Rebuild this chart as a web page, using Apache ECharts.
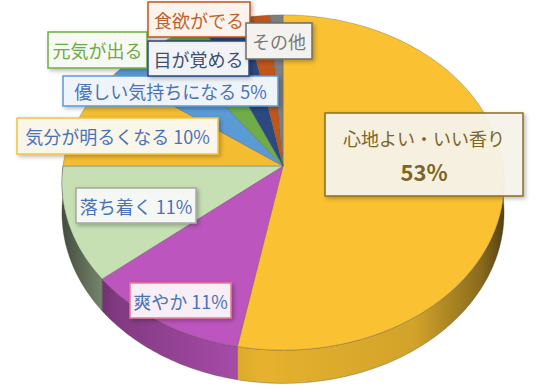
<!DOCTYPE html>
<html><head><meta charset="utf-8">
<script src="https://cdn.jsdelivr.net/npm/echarts@6/dist/echarts.min.js"></script>
<style>html,body{margin:0;padding:0;background:#fff}#c{width:555px;height:390px}</style>
</head><body><div id="c"></div>
<script>
// ---- data ----
const categories = ['心地よい・いい香り','爽やか','落ち着く','気分が明るくなる','優しい気持ちになる','元気が出る','目が覚める','食欲がでる','その他'];
const values = [53, 11, 11, 10, 5, 3.5, 3.5, 2, 1];
const showPercent = [true, true, true, true, true, false, false, false, false];

// ---- styles ----
const sliceColors = ['#FAC232','#BD55BE','#C6E0B4','#F4BD31','#5B9BD5','#70AD47','#2C4A80','#C0561A','#7F7F7F'];
const labelBorder = ['#8C6D1F','#E77A8E','#A6A6A6','#F5C242','#5B9BD5','#70AD47','#2F4B7C','#C0561A','#6E6E6E'];
const labelFill   = ['rgba(247,244,236,0.93)','#F8EEF6','#F4F7F4','#FBF6EA','#EFF4FB','#F6FAF2','#F1F3F7','#FBF3EC','#F4F2EE'];
const labelText   = ['#7F6424','#4A72B8','#4A72B8','#4A72B8','#4A72B8','#6FA74C','#3C4F70','#C0602A','#7A7A7A'];
const labelBoxes  = [[325,113,198,83],[130,283,101,35],[76,188,120,35],[17,118,201,36],[63,76,215,30],[48,32,99,36],[148,41,101,35],[148,2,102,35],[246,23,66,36]];

const CX = 283, CY = 166, RX = 220, RY = 166, P = 0.0985, DEPTH = 30;
const FONT = '"Noto Sans CJK JP", sans-serif';

const total = values.reduce((a, b) => a + b, 0);
const starts = [];
{ let acc = 0; values.forEach(v => { starts.push(acc); acc += v; }); }

function proj(t, dy) {
  const u = Math.sin(t), v = -Math.cos(t), k = 1 / (1 - P * v);
  return [CX + RX * u * k, CY + RY * v * k + (dy || 0) * k];
}
function arc(a, b, dy) {
  const n = Math.max(2, Math.ceil((b - a) / (Math.PI / 180)));
  const pts = [];
  for (let j = 0; j <= n; j++) pts.push(proj(a + (b - a) * j / n, dy));
  return pts;
}
function shade(hex, f) {
  const n = parseInt(hex.slice(1), 16);
  const r = (n >> 16) & 255, g = (n >> 8) & 255, b = n & 255;
  return 'rgb(' + Math.round(r * f) + ',' + Math.round(g * f) + ',' + Math.round(b * f) + ')';
}

function renderItem(params, api) {
  const i = params.dataIndex;
  const a = starts[i] / total * Math.PI * 2;
  const b = (starts[i] + api.value(0)) / total * Math.PI * 2;
  const col = sliceColors[i];
  const children = [];
  const s = Math.max(a, Math.PI / 2), e = Math.min(b, Math.PI * 1.5);
  if (s < e) {
    const top = arc(s, e, 0), bot = arc(s, e, DEPTH).reverse();
    children.push({
      type: 'polygon', z2: 1,
      shape: { points: top.concat(bot) },
      style: {
        fill: new echarts.graphic.LinearGradient(CX - RX, 0, CX + RX, 0, [
          { offset: 0, color: shade(col, 0.35) },
          { offset: 0.12, color: shade(col, 0.68) },
          { offset: 0.45, color: shade(col, 0.92) },
          { offset: 0.8, color: shade(col, 0.84) },
          { offset: 0.95, color: shade(col, 0.55) },
          { offset: 1, color: shade(col, 0.35) }
        ], true),
        stroke: 'rgba(70,70,70,0.55)', lineWidth: 0.6
      }
    });
  }
  children.push({
    type: 'polygon', z2: 2,
    shape: { points: [[CX, CY]].concat(arc(a, b, 0)) },
    style: { fill: col, stroke: 'rgba(80,80,80,0.55)', lineWidth: 0.6 }
  });
  const bx = labelBoxes[i];
  const pct = Math.round(api.value(0) / total * 100) + '%';
  children.push({
    type: 'rect', z2: 100,
    shape: { x: bx[0], y: bx[1], width: bx[2], height: bx[3] },
    style: { fill: labelFill[i], stroke: labelBorder[i], lineWidth: 1.5,
      shadowBlur: 4, shadowOffsetX: 2, shadowOffsetY: 2, shadowColor: 'rgba(0,0,0,0.28)' }
  });
  const name = categories[i];
  let style;
  if (i === 0) {
    style = {
      text: '{a|' + name + '}\n{b|' + pct + '}',
      rich: {
        a: { font: '18px ' + FONT, fill: labelText[i], lineHeight: 33, align: 'center' },
        b: { font: 'bold 22px ' + FONT, fill: labelText[i], lineHeight: 33, align: 'center' }
      }
    };
  } else {
    style = { text: showPercent[i] ? name + ' ' + pct : name, font: '18px ' + FONT, fill: labelText[i] };
  }
  style.textAlign = 'center';
  style.textVerticalAlign = 'middle';
  children.push({ type: 'text', z2: 101, x: bx[0] + bx[2] / 2, y: bx[1] + bx[3] / 2, style: style });
  return { type: 'group', children: children };
}

const chart = echarts.init(document.getElementById('c'), null, { renderer: 'svg' });
chart.setOption({
  backgroundColor: '#fff',
  animation: false,
  series: [{
    type: 'custom',
    coordinateSystem: 'none',
    renderItem: renderItem,
    data: values.map((v, i) => ({ name: categories[i], value: [v] }))
  }]
});
</script></body></html>
